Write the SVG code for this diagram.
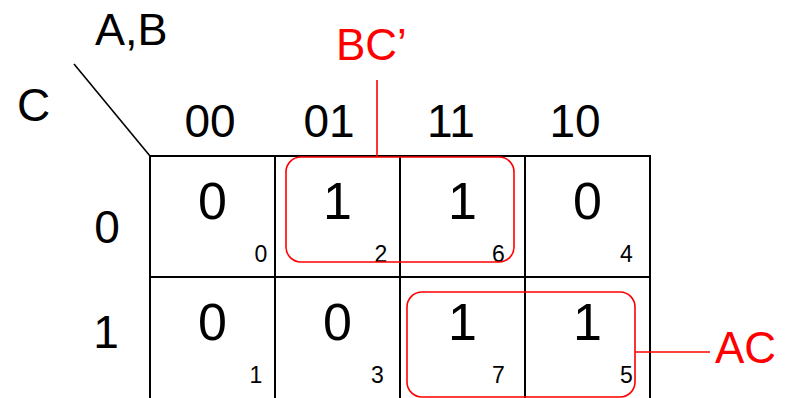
<svg xmlns="http://www.w3.org/2000/svg" width="793" height="398" viewBox="0 0 793 398">
<style>
text{font-family:"Liberation Sans",Arial,sans-serif;fill:#000}
.big{font-size:52px;text-anchor:middle}
.hdr{font-size:46px;text-anchor:middle}
.idx{font-size:23px;text-anchor:middle}
.grid{stroke:#000;stroke-width:2;fill:none}
.grp{stroke:#f00;stroke-width:1.6;fill:none}
.red{fill:#f00;font-size:44px}
</style>
<rect width="793" height="398" fill="#fff"/>
<g id="axis">
<line x1="74" y1="64" x2="150" y2="156" stroke="#000" stroke-width="1.6"/>
<text x="95" y="45" font-size="45">A,B</text>
<text x="17" y="121" font-size="46">C</text>
</g>
<g id="headers">
<text class="hdr" x="210" y="137">00</text>
<text class="hdr" x="329" y="137">01</text>
<text class="hdr" x="451" y="137">11</text>
<text class="hdr" x="575" y="137">10</text>
<text class="hdr" x="107" y="243">0</text>
<text class="hdr" x="106" y="348">1</text>
</g>
<g id="grid" class="grid">
<line x1="149" y1="156" x2="651" y2="156"/>
<line x1="149" y1="277" x2="651" y2="277"/>
<line x1="150" y1="155" x2="150" y2="398"/>
<line x1="275" y1="155" x2="275" y2="398"/>
<line x1="400" y1="155" x2="400" y2="398"/>
<line x1="525" y1="155" x2="525" y2="398"/>
<line x1="650" y1="155" x2="650" y2="398"/>
</g>
<g id="m0"><text class="big" x="212.5" y="219">0</text><text class="idx" x="261" y="262">0</text></g>
<g id="m2"><text class="big" x="337.5" y="219">1</text><text class="idx" x="381" y="262">2</text></g>
<g id="m6"><text class="big" x="462.5" y="219">1</text><text class="idx" x="498.5" y="262">6</text></g>
<g id="m4"><text class="big" x="587.5" y="219">0</text><text class="idx" x="626.5" y="262">4</text></g>
<g id="m1"><text class="big" x="212.5" y="340">0</text><text class="idx" x="256" y="383">1</text></g>
<g id="m3"><text class="big" x="337.5" y="340">0</text><text class="idx" x="377.5" y="383">3</text></g>
<g id="m7"><text class="big" x="462.5" y="340">1</text><text class="idx" x="498.5" y="383">7</text></g>
<g id="m5"><text class="big" x="587.5" y="340">1</text><text class="idx" x="626.5" y="383">5</text></g>
<g id="groupBC">
<rect class="grp" x="286" y="157" width="228" height="105" rx="15"/>
<text class="red" x="336" y="60">BC’</text>
</g>
<g id="groupAC">
<rect class="grp" x="407" y="292" width="228" height="105" rx="15"/>
<text class="red" x="715" y="363">AC</text>
</g>
<g id="connectors" class="grp">
<line x1="377" y1="80" x2="377" y2="157"/>
<line x1="635" y1="352" x2="710" y2="352"/>
</g>
</svg>
